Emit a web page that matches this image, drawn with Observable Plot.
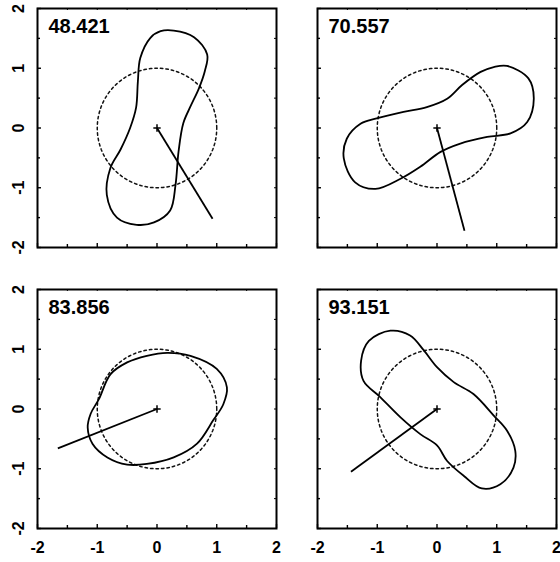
<!DOCTYPE html>
<html>
<head>
<meta charset="utf-8">
<script src="https://cdn.jsdelivr.net/npm/d3@7"></script>
<script src="https://cdn.jsdelivr.net/npm/@observablehq/plot@0.6"></script>
<style>
  html, body { margin: 0; padding: 0; background: #fff; }
  #chart { position: relative; width: 560px; height: 562px; overflow: hidden; }
  #chart svg { position: absolute; overflow: visible; }
</style>
</head>
<body>
<div id="chart"></div>
<script>
// Panel titles
const panelLabels = ["48.421", "70.557", "83.856", "93.151"];

// Closed contour of each panel, as [x, y] points
const contour1 = [
  [0.28, 1.63], [0.62, 1.52], [0.84, 1.23], [0.80, 0.95], [0.70, 0.66], [0.56, 0.36],
  [0.44, 0.08], [0.36, -0.40], [0.31, -0.95], [0.22, -1.38], [-0.05, -1.58],
  [-0.34, -1.62], [-0.67, -1.50], [-0.84, -1.12], [-0.78, -0.67], [-0.61, -0.36],
  [-0.45, 0.00], [-0.35, 0.34], [-0.32, 0.78], [-0.28, 1.17], [-0.11, 1.51], [0.06, 1.62]
];
const contour2 = [
  [1.17, 1.04], [1.53, 0.83], [1.62, 0.49], [1.51, 0.10], [1.23, -0.09], [0.84, -0.15],
  [0.39, -0.26], [0.06, -0.40], [-0.28, -0.65], [-0.61, -0.85], [-1.03, -1.02],
  [-1.37, -0.91], [-1.56, -0.51], [-1.51, -0.18], [-1.28, 0.07], [-1.01, 0.16],
  [-0.56, 0.27], [-0.17, 0.35], [0.17, 0.49], [0.42, 0.72], [0.73, 0.94], [0.95, 1.02]
];
const contour3 = [
  [-1.16, -0.31], [-1.11, -0.08], [-0.97, 0.17], [-0.78, 0.58], [-0.50, 0.78],
  [-0.17, 0.89], [0.17, 0.94], [0.56, 0.89], [1.00, 0.67], [1.17, 0.36], [1.11, 0.08],
  [0.94, -0.19], [0.67, -0.58], [0.28, -0.81], [-0.17, -0.92], [-0.50, -0.93],
  [-0.83, -0.81], [-1.08, -0.58]
];
const contour4 = [
  [-0.78, 1.31], [-1.14, 1.14], [-1.27, 0.81], [-1.23, 0.47], [-0.95, 0.20],
  [-0.61, -0.14], [-0.28, -0.42], [0.00, -0.61], [0.17, -0.87], [0.45, -1.12],
  [0.75, -1.33], [1.06, -1.26], [1.28, -0.98], [1.31, -0.70], [1.17, -0.36],
  [0.95, -0.11], [0.61, 0.25], [0.28, 0.45], [0.00, 0.70], [-0.22, 0.98], [-0.45, 1.23]
];

// End point of the vector drawn from the origin in each panel
const vectorEnds = [[0.93, -1.52], [0.46, -1.72], [-1.66, -0.66], [-1.44, -1.05]];

// Axis ticks
const tickValues = [-2, -1.5, -1, -0.5, 0, 0.5, 1, 1.5, 2];
const majorTicks = [-2, -1, 0, 1, 2];
const tickLabels = ["-2", "-1", "0", "1", "2"];

// Reference unit circle
const circleRadius = 1;
const circlePts = d3.range(0, 361, 3).map(a => {
  const t = a * Math.PI / 180;
  return [circleRadius * Math.cos(t), circleRadius * Math.sin(t)];
});

const contours = [contour1, contour2, contour3, contour4];
const minorTicks = tickValues.filter(v => !majorTicks.includes(v));

const chart = document.getElementById("chart");
const panelW = 280, marginL = 37, marginR = 4, marginT = 8;
const innerW = panelW - marginL - marginR; // 239

contours.forEach((pts, i) => {
  const col = i % 2, row = Math.floor(i / 2);
  const bottomRow = row === 1, leftCol = col === 0;
  const marginB = bottomRow ? 34 : 4;
  const h = innerW + marginT + marginB;
  const marks = [
    // dotted reference circle
    Plot.line(circlePts, {x: d => d[0], y: d => d[1], stroke: "#111", strokeWidth: 1.5, strokeDasharray: "2.5,3"}),
    // contour
    Plot.line(pts, {x: d => d[0], y: d => d[1], curve: "catmull-rom-closed", stroke: "#000", strokeWidth: 1.8}),
    // vector from origin
    Plot.link([vectorEnds[i]], {x1: 0, y1: 0, x2: d => d[0], y2: d => d[1], stroke: "#000", strokeWidth: 1.8}),
    Plot.dot([[0, 0]], {x: d => d[0], y: d => d[1], symbol: "plus", r: 2.5, stroke: "#000", strokeWidth: 1.5}),
    // inward ticks, bottom and left
    Plot.tickX(majorTicks, {x: d => d, insetTop: innerW - 4, stroke: "#000", strokeWidth: 1.4}),
    Plot.tickX(minorTicks, {x: d => d, insetTop: innerW - 3, stroke: "#000", strokeWidth: 1.4}),
    Plot.tickY(majorTicks, {y: d => d, insetRight: innerW - 4, stroke: "#000", strokeWidth: 1.4}),
    Plot.tickY(minorTicks, {y: d => d, insetRight: innerW - 3, stroke: "#000", strokeWidth: 1.4}),
    // small ticks, top and right
    Plot.tickX(tickValues, {x: d => d, insetBottom: innerW - 2, stroke: "#000", strokeWidth: 1}),
    Plot.tickY(tickValues, {y: d => d, insetLeft: innerW - 2, stroke: "#000", strokeWidth: 1}),
    Plot.frame({stroke: "#000", strokeWidth: 2}),
    Plot.text([panelLabels[i]], {
      frameAnchor: "top-left", dx: 11, dy: 10, text: d => d, textAnchor: "start", lineAnchor: "top",
      fontSize: 20, fontWeight: "bold", fill: "#000", letterSpacing: "-0.4px"
    })
  ];
  if (leftCol) {
    marks.push(Plot.text(majorTicks, {
      y: d => d, frameAnchor: "left", dx: -19, rotate: -90, text: (d, j) => tickLabels[j],
      textAnchor: "middle", lineAnchor: "middle", fontSize: 16, fontWeight: "bold", fill: "#000"
    }));
  }
  if (bottomRow) {
    marks.push(Plot.text(majorTicks, {
      x: d => d, frameAnchor: "bottom", dy: 19, text: (d, j) => tickLabels[j],
      textAnchor: "middle", lineAnchor: "middle", fontSize: 16, fontWeight: "bold", fill: "#000"
    }));
  }
  const svg = Plot.plot({
    width: panelW,
    height: h,
    marginLeft: marginL,
    marginRight: marginR,
    marginTop: marginT,
    marginBottom: marginB,
    x: {domain: [-2, 2], axis: null},
    y: {domain: [-2, 2], axis: null},
    style: {fontFamily: "'Liberation Sans', Arial, sans-serif", background: "transparent"},
    marks
  });
  svg.style.left = (col * panelW) + "px";
  svg.style.top = (row * 281) + "px";
  chart.appendChild(svg);
});
</script>
</body>
</html>
